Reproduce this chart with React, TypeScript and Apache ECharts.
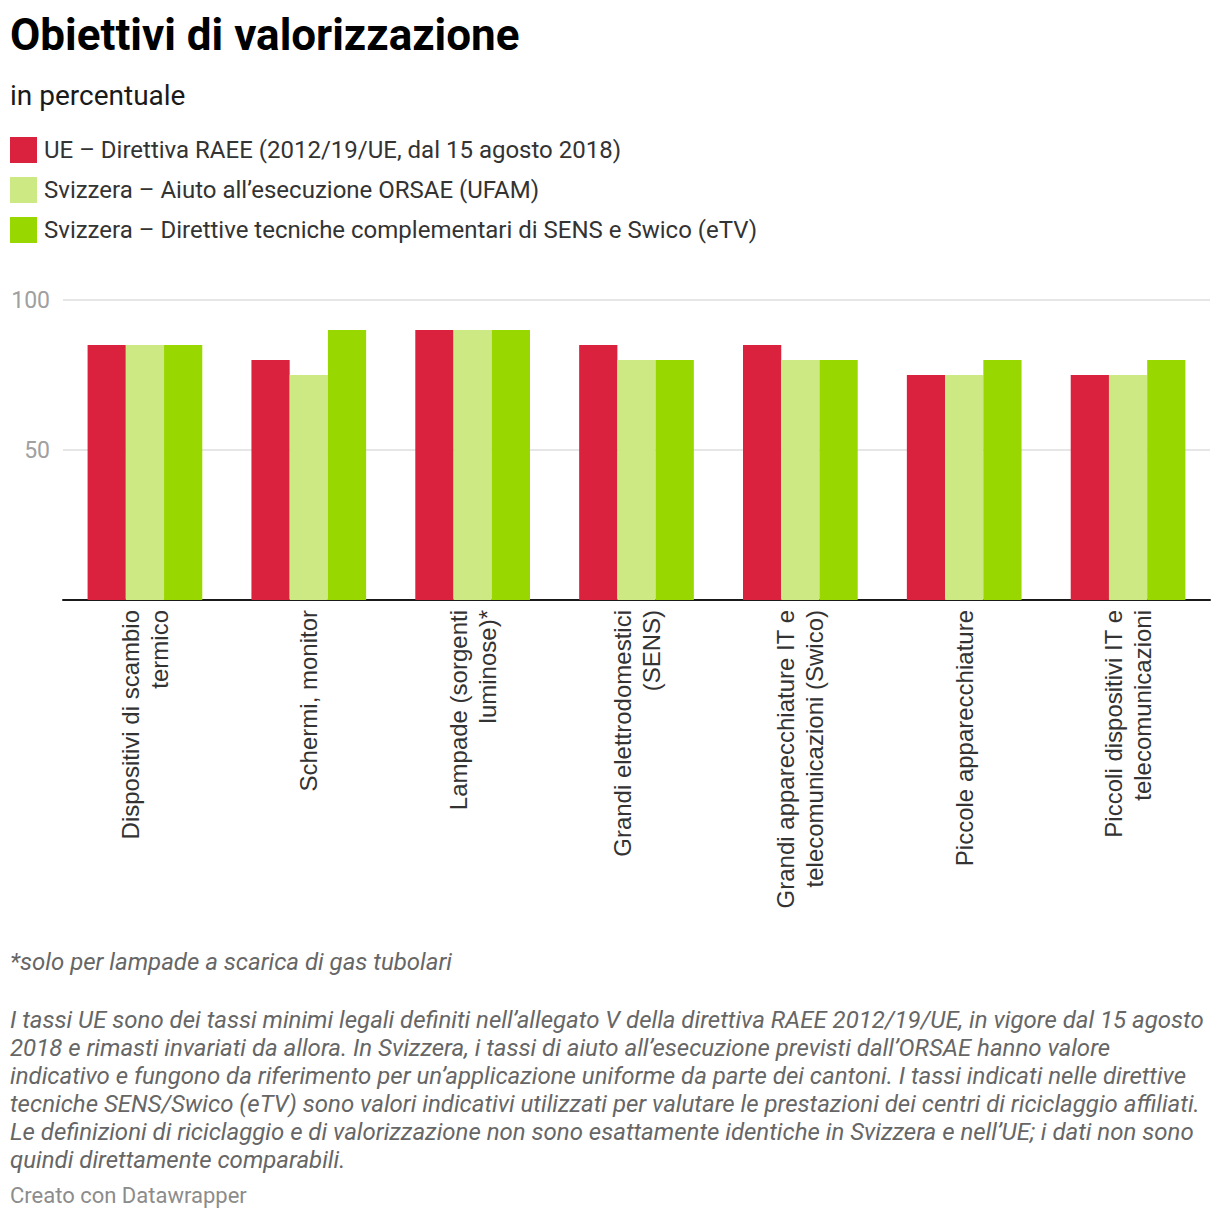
import React, { useEffect, useRef } from "react";
import * as echarts from "echarts";

// Categories (line breaks as they appear under the axis)
const categories = [
  "Dispositivi di scambio\ntermico",
  "Schermi, monitor",
  "Lampade (sorgenti\nluminose)*",
  "Grandi elettrodomestici\n(SENS)",
  "Grandi apparecchiature IT e\ntelecomunicazioni (Swico)",
  "Piccole apparecchiature",
  "Piccoli dispositivi IT e\ntelecomunicazioni",
];

const seriesNames = [
  "UE – Direttiva RAEE (2012/19/UE, dal 15 agosto 2018)",
  "Svizzera – Aiuto all’esecuzione ORSAE (UFAM)",
  "Svizzera – Direttive tecniche complementari di SENS e Swico (eTV)",
];

const ueRaee = [85, 80, 90, 85, 85, 75, 75];
const orsae = [85, 75, 90, 80, 80, 75, 75];
const etv = [85, 90, 90, 80, 80, 80, 80];

const colors = ["#da213e", "#cce983", "#98d800"];

const yTicks = [0, 50, 100];

const footnoteStar = "*solo per lampade a scarica di gas tubolari";
const notesLines = [
  "I tassi UE sono dei tassi minimi legali definiti nell’allegato V della direttiva RAEE 2012/19/UE, in vigore dal 15 agosto",
  "2018 e rimasti invariati da allora. In Svizzera, i tassi di aiuto all’esecuzione previsti dall’ORSAE hanno valore",
  "indicativo e fungono da riferimento per un’applicazione uniforme da parte dei cantoni. I tassi indicati nelle direttive",
  "tecniche SENS/Swico (eTV) sono valori indicativi utilizzati per valutare le prestazioni dei centri di riciclaggio affiliati.",
  "Le definizioni di riciclaggio e di valorizzazione non sono esattamente identiche in Svizzera e nell’UE; i dati non sono",
  "quindi direttamente comparabili.",
];
const credit = "Creato con Datawrapper";

export default function App() {
  const ref = useRef<HTMLDivElement>(null);

  useEffect(() => {
    if (!ref.current) return;
    const chart = echarts.init(ref.current, undefined, { renderer: "svg" });
    const seriesData = [ueRaee, orsae, etv];

    chart.setOption({
      animation: false,
      backgroundColor: "#ffffff",
      textStyle: { fontFamily: "Roboto" },
      legend: {
        orient: "vertical",
        left: 10,
        top: 137,
        padding: 0,
        itemWidth: 27,
        itemHeight: 26,
        itemGap: 14,
        icon: "rect",
        selectedMode: false,
        textStyle: {
          fontFamily: "Roboto",
          fontSize: 24,
          color: "#333333",
          padding: [0, 0, 0, 2],
        },
        data: seriesNames,
      },
      grid: { left: 63, right: 10, top: 300, bottom: 620 },
      xAxis: {
        type: "category",
        data: categories,
        axisTick: { show: false },
        axisLine: { lineStyle: { color: "#1a1a1a", width: 2 } },
        axisLabel: {
          rotate: 90,
          margin: 10,
          interval: 0,
          fontFamily: "Liberation Sans",
          fontSize: 24,
          lineHeight: 29,
          color: "#333333",
          align: "right",
          verticalAlign: "middle",
        },
      },
      yAxis: {
        type: "value",
        min: yTicks[0],
        max: yTicks[yTicks.length - 1],
        interval: 50,
        axisLine: { show: false },
        axisTick: { show: false },
        splitLine: { lineStyle: { color: "#e6e6e6", width: 2 } },
        axisLabel: {
          margin: 13,
          fontFamily: "Roboto",
          fontSize: 23,
          color: "#a0a0a0",
          formatter: (v: number) => (v === 0 ? "" : String(v)),
        },
      },
      series: seriesNames.map((name, i) => ({
        name,
        type: "bar",
        data: seriesData[i],
        itemStyle: { color: colors[i] },
        barGap: "0%",
        barCategoryGap: "30%",
      })),
      graphic: [
        {
          type: "text",
          left: 10,
          top: 13,
          style: {
            text: "Obiettivi di valorizzazione",
            fontFamily: "Roboto",
            fontWeight: "bold",
            fontSize: 44,
            fill: "#000000",
          },
        },
        {
          type: "text",
          left: 10,
          top: 81,
          style: {
            text: "in percentuale",
            fontFamily: "Roboto",
            fontSize: 28,
            fill: "#1a1a1a",
          },
        },
        {
          type: "text",
          left: 10,
          top: 950,
          style: {
            text: footnoteStar,
            fontFamily: "Roboto",
            fontStyle: "italic",
            fontSize: 24,
            fill: "#666666",
          },
        },
        {
          type: "text",
          left: 10,
          top: 1006,
          style: {
            text: notesLines.join("\n"),
            fontFamily: "Roboto",
            fontStyle: "italic",
            fontSize: 24,
            lineHeight: 28,
            fill: "#666666",
          },
        },
        {
          type: "text",
          left: 10,
          top: 1184,
          style: {
            text: credit,
            fontFamily: "Roboto",
            fontSize: 22,
            fill: "#8c8c8c",
          },
        },
      ],
    });

    return () => chart.dispose();
  }, []);

  return (
    <div
      ref={ref}
      style={{ position: "fixed", left: 0, top: 0, width: 1220, height: 1220 }}
    />
  );
}
